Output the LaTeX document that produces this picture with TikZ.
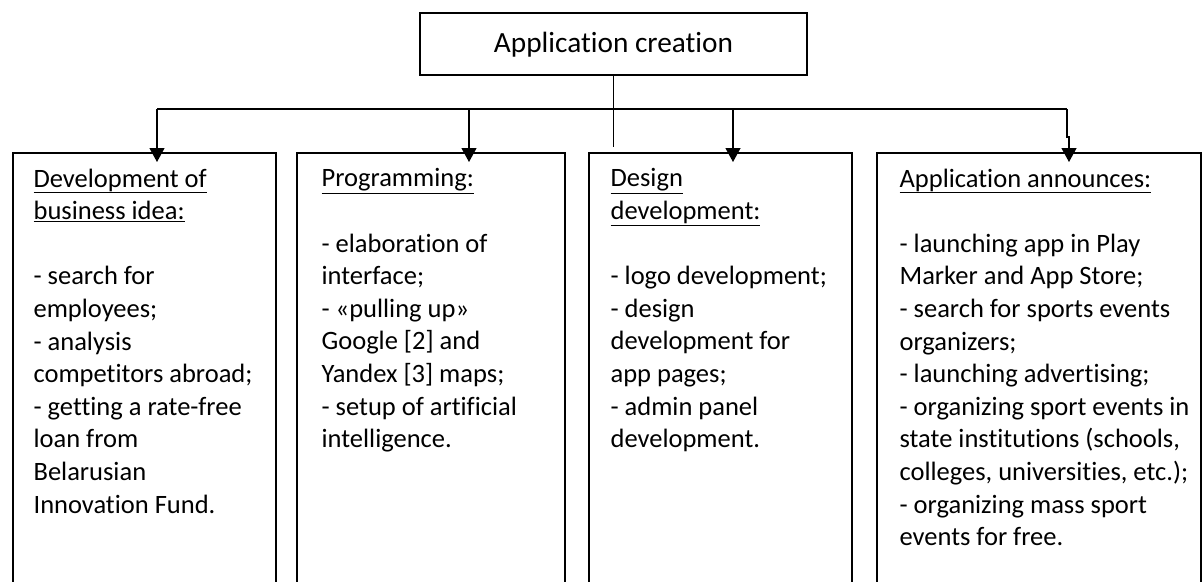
\documentclass[tikz,border=0pt]{standalone}
\usepackage{fontspec}
\setmainfont{Carlito}[Ligatures=NoCommon]
\usetikzlibrary{arrows.meta}
\begin{document}
\begin{tikzpicture}[x=1pt,y=-1pt,
  line width=1.2pt,
  boxshape/.style={draw=black, line width=1.2pt},
  bodytext/.style={anchor=north west, inner sep=0pt, align=left,
    font=\fontsize{26.5}{32.6}\selectfont, text depth=0pt},
  titletext/.style={font=\fontsize{29.3}{34}\selectfont},
  arr/.style={-{Triangle[width=15pt,length=14pt]}, line width=1.2pt},
  wire/.style={line width=1.2pt}]
\useasboundingbox (0,0) rectangle (1202,581);
\clip (0,0) rectangle (1202,581);
% top box
\draw[boxshape] (420,13) rectangle (807,75);
\node[titletext, anchor=base] (top) at (613.5,52) {Application creation};
\coordinate (topb) at (613.5,75);
% boxes
\draw[boxshape] (13,600) -- (13,153) -- (276,153) -- (276,600);
\draw[boxshape] (297,600) -- (297,153) -- (565,153) -- (565,600);
\draw[boxshape] (589,600) -- (589,153) -- (852,153) -- (852,600);
\draw[boxshape] (877,600) -- (877,153) -- (1201,153) -- (1201,600);
% texts
\node[bodytext] (t1) at (33,168) {\underline{Development of}\\\underline{business idea:}\\[32.6pt]- search for\\employees;\\- analysis\\competitors abroad;\\- getting a rate-free\\loan from\\Belarusian\\Innovation Fund.};
\node[bodytext] (t2) at (321,168) {\underline{Programming:}\\[32.6pt]- elaboration of\\interface;\\- «pulling up»\\Google [2] and\\Yandex [3] maps;\\- setup of artificial\\intelligence.};
\node[bodytext] (t3) at (610,168) {\underline{Design}\\\underline{development:}\\[32.6pt]- logo development;\\- design\\development for\\app pages;\\- admin panel\\development.};
\node[bodytext] (t4) at (899,168) {\underline{Application announces:}\\[32.6pt]- launching app in Play\\Marker and App Store;\\- search for sports events\\organizers;\\- launching advertising;\\- organizing sport events in\\state institutions (schools,\\colleges, universities, etc.);\\- organizing mass sport\\events for free.};
% connectors
\coordinate (trunkend) at (613.5,147);
\coordinate (j1) at (157,109);
\coordinate (j2) at (469,109);
\coordinate (j3) at (733,109);
\coordinate (j4) at (1067,109);
\coordinate (j4b) at (1067,137);
\coordinate (j4c) at (1069,137);
\coordinate (a1) at (157,162);
\coordinate (a2) at (469,162);
\coordinate (a3) at (733,162);
\coordinate (a4) at (1069,162);
\draw[wire] (topb) -- (trunkend);
\draw[wire] (j1) -- (j4);
\draw[arr] (j1) -- (a1);
\draw[arr] (j2) -- (a2);
\draw[arr] (j3) -- (a3);
\draw[arr] (j4) -- (j4b) -- (j4c) -- (a4);
\end{tikzpicture}
\end{document}
